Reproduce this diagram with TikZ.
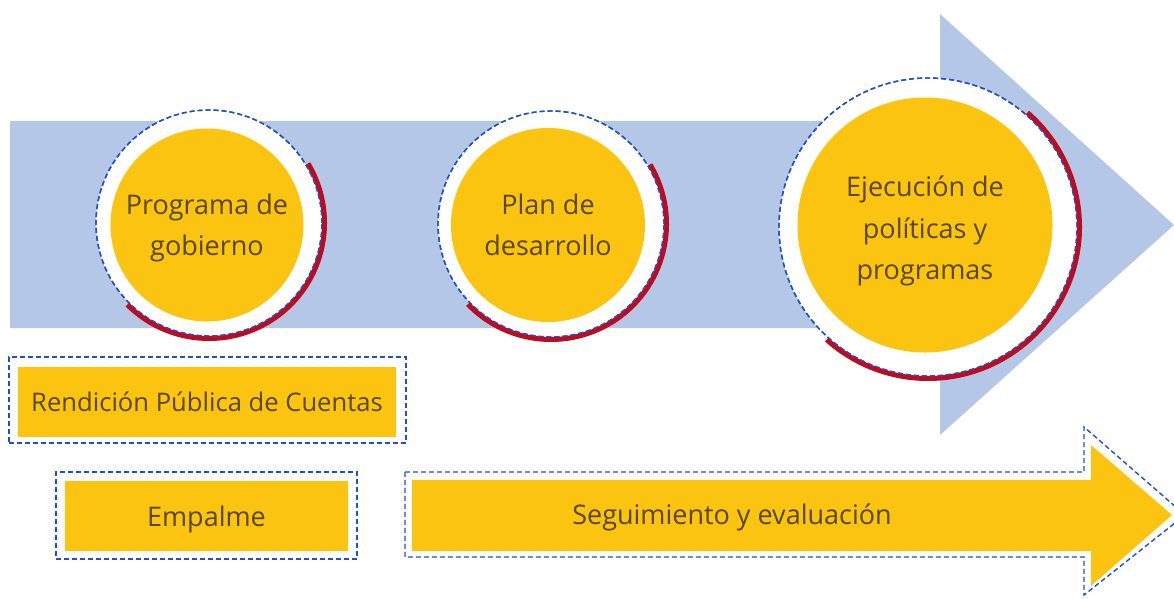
\documentclass[tikz,border=0pt]{standalone}
\usepackage{fontspec}
\setmainfont{Open Sans}
\definecolor{band}{RGB}{180,199,231}
\definecolor{gold}{RGB}{250,196,17}
\definecolor{arcred}{RGB}{192,10,30}
\definecolor{dashblue}{RGB}{30,80,200}
\definecolor{txt}{RGB}{89,71,0}
\tikzset{
  dashline/.style={draw=dashblue, line width=1.4pt, dash pattern=on 5pt off 3pt},
  outer/.style={circle, dashline, fill=white, inner sep=0pt},
  disc/.style={circle, fill=gold, inner sep=0pt},
  disctext/.style={inner sep=0pt, text=txt, align=center,
    font=\fontsize{27pt}{41.5pt}\selectfont},
  redarc/.style={draw=arcred, line width=5pt},
  box/.style={fill=gold, inner sep=0pt, text=txt, font=\fontsize{27pt}{30pt}\selectfont},
  frame/.style={dashline, inner sep=0pt},
}
\begin{document}
\begin{tikzpicture}[x=1pt,y=1pt]
\useasboundingbox (0,0) rectangle (1174,-598);
\clip (0,0) rectangle (1174,-598);
% big background arrow
\fill[band] (10,-121) -- (940,-121) -- (940,-14) -- (1174,-225) -- (940,-435) -- (940,-328) -- (10,-328) -- cycle;
% circle 1
\node[outer, minimum size=226pt] (o1) at (209,-223) {};
\draw[redarc] ([shift={(31:115.5)}]o1.center) arc (31:-135:115.5);
\draw[dashline] (o1.center) circle (113);
\node[disc, minimum size=193pt] (c1) at (207,-225) {};
\node[disctext] (t1) at ([yshift=-3pt]c1.center) {Programa de\\gobierno};
% circle 2
\node[outer, minimum size=226pt] (o2) at (551,-224) {};
\draw[redarc] ([shift={(31:115.5)}]o2.center) arc (31:-136:115.5);
\draw[dashline] (o2.center) circle (113);
\node[disc, minimum size=194pt] (c2) at (548,-225) {};
\node[disctext] (t2) at ([yshift=0pt]c2.center) {Plan de\\desarrollo};
% circle 3
\node[outer, minimum size=298pt] (o3) at (928,-227) {};
\draw[redarc] ([shift={(49:151.5)}]o3.center) arc (49:-132:151.5);
\draw[dashline] (o3.center) circle (149);
\node[disc, minimum size=255pt] (c3) at (925,-225) {};
\node[disctext] (t3) at ([yshift=-6pt]c3.center) {Ejecución de\\políticas y\\programas};
% Rendicion
\node[frame, minimum width=397pt, minimum height=86pt] (f1) at (207.5,-400) {};
\node[box, minimum width=378pt, minimum height=70pt, font=\fontsize{25.6pt}{30pt}\selectfont] (b1) at (207,-402) {Rendición Pública de Cuentas};
% Empalme
\node[frame, minimum width=301pt, minimum height=87pt] (f2) at (206.5,-515.5) {};
\node[box, minimum width=283pt, minimum height=70pt] (b2) at (206.5,-516) {};
\node[disctext] (e2) at ([yshift=-3pt]b2.center) {Empalme};
% Seguimiento arrow
\draw[dashline] (405,-472) -- (1084,-472) -- (1084,-427) -- (1185,-515) -- (1084,-595) -- (1084,-557) -- (405,-557) -- cycle;
\fill[gold] (412,-480) -- (1091,-480) -- (1091,-445) -- (1172,-515) -- (1091,-586) -- (1091,-551) -- (412,-551) -- cycle;
\node[disctext] (s) at (732,-517) {Seguimiento y evaluación};
\end{tikzpicture}
\end{document}
